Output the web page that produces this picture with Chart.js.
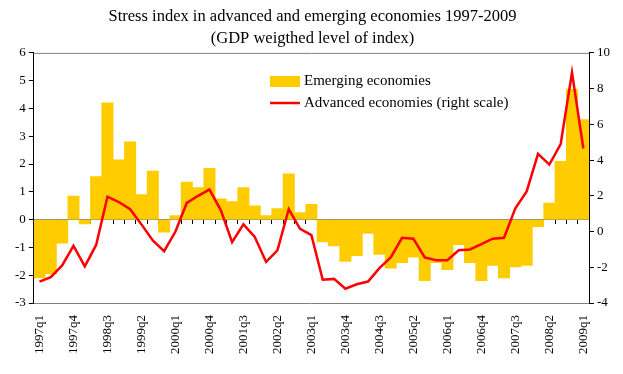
<!DOCTYPE html>
<html>
<head>
<meta charset="utf-8">
<script src="https://cdn.jsdelivr.net/npm/chart.js@4/dist/chart.umd.min.js"></script>
<style>
  html, body { margin: 0; padding: 0; background: #fff; }
  #wrap { width: 623px; height: 374px; }
</style>
</head>
<body>
<div id="wrap"><canvas id="myChart" width="623" height="374"></canvas></div>
<script>
// quarters 1997q1 - 2009q1
var quarters = [
    "1997q1", "1997q2", "1997q3", "1997q4", "1998q1", "1998q2", "1998q3", "1998q4",
    "1999q1", "1999q2", "1999q3", "1999q4", "2000q1", "2000q2", "2000q3", "2000q4",
    "2001q1", "2001q2", "2001q3", "2001q4", "2002q1", "2002q2", "2002q3", "2002q4",
    "2003q1", "2003q2", "2003q3", "2003q4", "2004q1", "2004q2", "2004q3", "2004q4",
    "2005q1", "2005q2", "2005q3", "2005q4", "2006q1", "2006q2", "2006q3", "2006q4",
    "2007q1", "2007q2", "2007q3", "2007q4", "2008q1", "2008q2", "2008q3", "2008q4",
    "2009q1"
];

// left scale
var emerging = [
    -2.1, -1.95, -0.85, 0.85, -0.15, 1.55, 4.2, 2.15,
    2.8, 0.9, 1.75, -0.45, 0.15, 1.35, 1.15, 1.85,
    0.75, 0.65, 1.15, 0.5, 0.15, 0.4, 1.65, 0.25,
    0.55, -0.8, -0.95, -1.5, -1.3, -0.5, -1.25, -1.75,
    -1.55, -1.35, -2.2, -1.55, -1.8, -0.9, -1.55, -2.2,
    -1.65, -2.1, -1.7, -1.65, -0.25, 0.6, 2.1, 4.7,
    3.6
];

// right scale
var advanced = [
    -2.8, -2.55, -1.9, -0.8, -1.95, -0.75, 1.95, 1.65,
    1.25, 0.4, -0.5, -1.1, 0, 1.6, 2.0, 2.35,
    1.2, -0.6, 0.4, -0.3, -1.7, -1.05, 1.25, 0.15,
    -0.2, -2.7, -2.65, -3.2, -2.95, -2.8, -2.05, -1.45,
    -0.35, -0.4, -1.45, -1.6, -1.6, -1.05, -1.0, -0.7,
    -0.4, -0.35, 1.3, 2.25, 4.35, 3.75, 4.9, 8.9,
    4.65
];

var seriesNames = ["Emerging economies", "Advanced economies (right scale)"];
var titleLines = ["Stress index in advanced and emerging economies 1997-2009", "(GDP weigthed level of index)"];

var serif = "'Liberation Serif', 'Times New Roman', serif";
var barColor = "#FFCC00";
var lineColor = "#FF0000";

// legend sits inside the plot, drawn by hand
var boxLegend = {
    id: "boxLegend",
    afterDraw: function (chart) {
        var ctx = chart.ctx;
        var area = chart.chartArea;
        ctx.save();
        // top edge of plot frame
        ctx.strokeStyle = "#808080";
        ctx.lineWidth = 1;
        ctx.beginPath();
        ctx.moveTo(area.left, area.top + 0.5);
        ctx.lineTo(area.right, area.top + 0.5);
        ctx.stroke();

        var x = 270, y1 = 81, y2 = 103;
        ctx.fillStyle = barColor;
        ctx.fillRect(x, y1 - 5, 30, 11);
        ctx.strokeStyle = lineColor;
        ctx.lineWidth = 2.5;
        ctx.beginPath();
        ctx.moveTo(x, y2);
        ctx.lineTo(x + 30, y2);
        ctx.stroke();
        ctx.fillStyle = "#000";
        ctx.font = "15px " + serif;
        ctx.textBaseline = "middle";
        ctx.fillText(seriesNames[0], x + 34, y1);
        ctx.fillText(seriesNames[1], x + 34, y2);
        ctx.restore();
    }
};

var canvas = document.getElementById("myChart").getContext("2d");

new Chart(canvas, {
    type: "bar",
    data: {
        labels: quarters,
        datasets: [{
            type: "line",
            label: seriesNames[1],
            data: advanced,
            yAxisID: "y1",
            borderColor: lineColor,
            borderWidth: 2.5,
            pointRadius: 0,
            tension: 0,
            order: 1
        }, {
            label: seriesNames[0],
            data: emerging,
            yAxisID: "y",
            backgroundColor: barColor,
            barPercentage: 1,
            categoryPercentage: 1,
            order: 2
        }]
    },
    plugins: [boxLegend],
    options: {
        responsive: false,
        animation: false,
        layout: { padding: { left: 12, right: 10, top: 0, bottom: 16 } },
        plugins: {
            legend: { display: false },
            tooltip: { enabled: false },
            title: {
                display: true,
                text: titleLines,
                color: "#000",
                font: { family: serif, size: 16.5, weight: "normal", lineHeight: 1.3 },
                padding: { top: 6, bottom: 4 }
            }
        },
        scales: {
            x: {
                position: "bottom",
                grid: { display: false },
                border: { display: true, color: "#808080" },
                ticks: {
                    autoSkip: false,
                    minRotation: 90,
                    maxRotation: 90,
                    color: "#000",
                    padding: 4,
                    font: { family: serif, size: 13 },
                    callback: function (v, i) { return i % 3 === 0 ? quarters[i] : ""; }
                }
            },
            x0: {
                type: "category",
                labels: quarters,
                position: { y: 0 },
                offset: true,
                grid: { offset: true, drawOnChartArea: false, drawTicks: true, tickLength: 4, color: "#000" },
                border: { display: true, color: "#808080" },
                ticks: { display: false, autoSkip: false }
            },
            y: {
                position: "left",
                min: -3,
                max: 6,
                grid: { drawOnChartArea: false, tickLength: 5, color: "#000" },
                border: { display: true, color: "#000" },
                ticks: { stepSize: 1, color: "#000", padding: 3, font: { family: serif, size: 13 } }
            },
            y1: {
                position: "right",
                min: -4,
                max: 10,
                grid: { drawOnChartArea: false, tickLength: 5, color: "#000" },
                border: { display: true, color: "#000" },
                ticks: { stepSize: 2, color: "#000", padding: 3, font: { family: serif, size: 13 } }
            }
        }
    }
});
</script>
</body>
</html>
